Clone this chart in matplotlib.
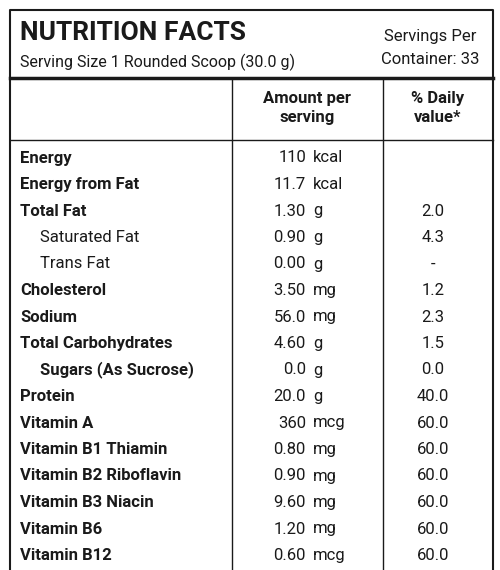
import matplotlib
matplotlib.use("Agg")
import matplotlib.pyplot as plt
from matplotlib import font_manager as fm

names = {f.name for f in fm.fontManager.ttflist}
FAM = "Liberation Sans Narrow" if "Liberation Sans Narrow" in names else "Roboto"

labels = ["Energy", "Energy from Fat", "Total Fat", "Saturated Fat", "Trans Fat", "Cholesterol",
          "Sodium", "Total Carbohydrates", "Sugars (As Sucrose)", "Protein", "Vitamin A",
          "Vitamin B1 Thiamin", "Vitamin B2 Riboflavin", "Vitamin B3 Niacin", "Vitamin B6", "Vitamin B12"]
amounts = ["110", "11.7", "1.30", "0.90", "0.00", "3.50", "56.0", "4.60", "0.0", "20.0", "360",
           "0.80", "0.90", "9.60", "1.20", "0.60"]
units = ["kcal", "kcal", "g", "g", "g", "mg", "mg", "g", "g", "g", "mcg", "mg", "mg", "mg", "mg", "mcg"]
daily = ["", "", "2.0", "4.3", "-", "1.2", "2.3", "1.5", "0.0", "40.0", "60.0", "60.0", "60.0", "60.0", "60.0", "60.0"]
indent = [0, 0, 0, 1, 1, 0, 0, 0, 1, 0, 0, 0, 0, 0, 0, 0]
bold = [1, 1, 1, 0, 0, 1, 1, 1, 1, 1, 1, 1, 1, 1, 1, 1]

fig = plt.figure(figsize=(5, 5.7), dpi=100)
ax = fig.add_axes([0, 0, 1, 1])
ax.set_xlim(0, 500); ax.set_ylim(570, 0); ax.axis("off")
c = "#1a1a1a"
ax.plot([10, 10, 493, 493], [575, 10, 10, 575], color=c, lw=1.5)
ax.plot([10, 493], [78, 78], color=c, lw=2.5)
ax.plot([10, 493], [140, 140], color=c, lw=1)
ax.plot([232, 232], [78, 575], color=c, lw=1)
ax.plot([383, 383], [78, 575], color=c, lw=1)

ax.text(20, 33, "NUTRITION FACTS", fontsize=19, fontweight="bold", family=FAM, va="center", color=c)
ax.text(20, 62, "Serving Size 1 Rounded Scoop (30.0 g)", fontsize=11.5, family=FAM, va="center", color=c)
ax.text(430, 36, "Servings Per", fontsize=12, family=FAM, va="center", ha="center", color=c)
ax.text(430, 59, "Container: 33", fontsize=12, family=FAM, va="center", ha="center", color=c)
ax.text(307, 108, "Amount per\nserving", fontsize=12, fontweight="bold", family=FAM, va="center", ha="center", linespacing=1.3, color=c)
ax.text(438, 108, "% Daily\nvalue*", fontsize=12, fontweight="bold", family=FAM, va="center", ha="center", linespacing=1.3, color=c)

for i, lab in enumerate(labels):
    y = 158 + 26.5 * i
    ax.text(40 if indent[i] else 20, y, lab, fontsize=12, fontweight="bold" if bold[i] else "normal",
            family=FAM, va="center", color=c)
    ax.text(306, y, amounts[i], fontsize=12, family=FAM, va="center", ha="right", color=c)
    ax.text(313, y, units[i], fontsize=12, family=FAM, va="center", ha="left", color=c)
    ax.text(433, y, daily[i], fontsize=12, family=FAM, va="center", ha="center", color=c)

fig.savefig("out.png", dpi=100, facecolor="white")
